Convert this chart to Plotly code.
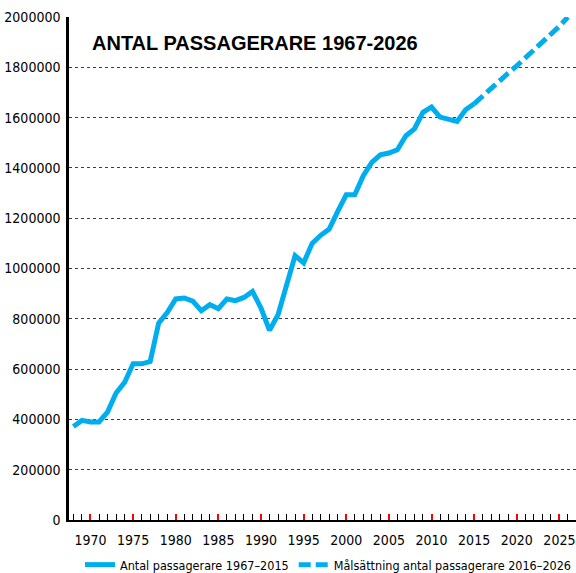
import plotly.graph_objects as go

years_actual = list(range(1968, 2016))
passengers_actual = [
    372000, 396000, 390000, 390000, 429000, 505000, 547000, 621000, 621000, 630000,
    783000, 825000, 879000, 883000, 870000, 832000, 856000, 840000, 879000, 872000,
    885000, 909000, 843000, 754000, 816000, 929000, 1051000, 1022000, 1100000, 1132000,
    1157000, 1227000, 1293000, 1293000, 1369000, 1422000, 1452000, 1459000, 1472000, 1528000,
    1555000, 1621000, 1642000, 1602000, 1594000, 1585000, 1631000, 1655000,
]

# Target (dashed line)
years_target = list(range(2015, 2027))
passengers_target = [
    1655000, 1687000, 1715000, 1747000, 1777000, 1806000,
    1837000, 1870000, 1899000, 1930000, 1963000, 2000000,
]

x_tickvals = [1970, 1975, 1980, 1985, 1990, 1995, 2000, 2005, 2010, 2015, 2020, 2025]
y_tickvals = [0, 200000, 400000, 600000, 800000, 1000000, 1200000, 1400000, 1600000, 1800000, 2000000]

title_text = "ANTAL PASSAGERARE 1967-2026"
name_actual = "Antal passagerare 1967–2015"
name_target = "Målsättning antal passagerare 2016–2026"

blue = "#00AEEF"
narrow = "DejaVu Sans Condensed, sans-serif"

fig = go.Figure()

fig.add_trace(go.Scatter(
    x=years_actual,
    y=passengers_actual,
    mode="lines",
    line=dict(color=blue, width=5),
    name=name_actual,
))

fig.add_trace(go.Scatter(
    x=years_target,
    y=passengers_target,
    mode="lines",
    line=dict(color=blue, width=5, dash="12px,5px"),
    name=name_target,
))

fig.add_annotation(
    text=title_text,
    xref="paper", yref="paper",
    x=(90 - 69) / 507, y=(520.3 - 43) / 503,
    xanchor="left", yanchor="middle",
    showarrow=False,
    font=dict(family="Liberation Sans, Arial, sans-serif", size=20, color="black", weight="bold"),
)

fig.update_layout(
    width=576,
    height=573,
    margin=dict(l=69, r=0, t=17, b=53),
    paper_bgcolor="white",
    plot_bgcolor="white",
    showlegend=True,
    legend=dict(
        orientation="h",
        xref="container", yref="container",
        x=80 / 576, y=1 - 550 / 573,
        xanchor="left", yanchor="top",
        font=dict(family=narrow, size=12.5, color="black"),
        itemwidth=30,
        tracegroupgap=0,
        bgcolor="rgba(0,0,0,0)",
    ),
    xaxis=dict(
        range=[1967.48, 2026.95],
        tickvals=x_tickvals,
        ticktext=[str(v) for v in x_tickvals],
        ticks="inside",
        ticklen=6,
        tickwidth=2,
        tickcolor="red",
        minor=dict(dtick=1, tick0=1970, ticks="inside", ticklen=6, tickwidth=1, tickcolor="black"),
        showline=True,
        linecolor="black",
        linewidth=2,
        showgrid=False,
        zeroline=False,
        automargin=False,
        ticklabelstandoff=6,
        tickfont=dict(family=narrow, size=14, color="black"),
    ),
    yaxis=dict(
        range=[0, 2000000],
        tickvals=y_tickvals,
        ticktext=[str(v) for v in y_tickvals],
        showline=True,
        linecolor="black",
        linewidth=2.5,
        showgrid=True,
        gridcolor="rgb(60,60,60)",
        griddash="3px,3px",
        gridwidth=1,
        zeroline=False,
        automargin=False,
        ticks="",
        ticklabelstandoff=3,
        tickfont=dict(family=narrow, size=14, color="black"),
    ),
)

# page has an 8px body margin by default; drop it so the figure fills the window
fig.write_html(
    "out.html",
    config={"displayModeBar": False},
    post_script="document.body.style.margin='0';",
)
